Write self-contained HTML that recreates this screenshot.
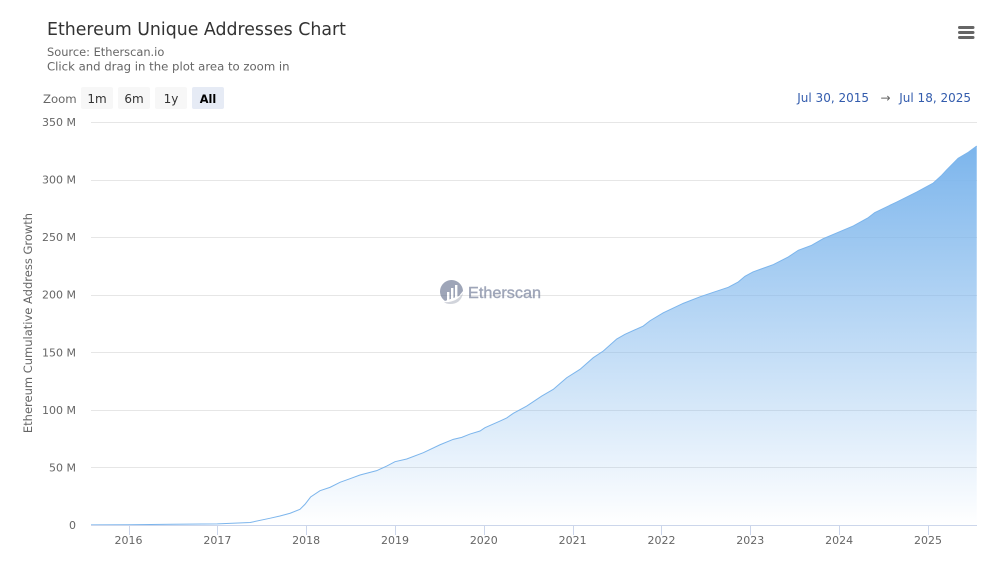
<!DOCTYPE html>
<html lang="en">
<head>
<meta charset="utf-8">
<title>Ethereum Unique Addresses Chart</title>
<style>
html,body{margin:0;padding:0;background:#fff;}
body{width:998px;height:568px;overflow:hidden;}
svg{display:block;}
text{font-family:"DejaVu Sans","Liberation Sans",sans-serif;}
text.wm{font-family:"Liberation Sans",sans-serif;}
</style>
</head>
<body>
<svg id="chart" width="998" height="568" viewBox="0 0 998 568" xmlns="http://www.w3.org/2000/svg">
  <defs>
    <linearGradient id="areaFill" x1="0" y1="0" x2="0" y2="1">
      <stop offset="0" stop-color="#7cb5ec"/>
      <stop offset="1" stop-color="#7cb5ec" stop-opacity="0"/>
    </linearGradient>
  </defs>
  <text x="47" y="35" font-size="17.35" fill="#333333">Ethereum Unique Addresses Chart</text>
  <text x="47" y="56" font-size="11.4" fill="#666666">Source: Etherscan.io</text>
  <text x="47" y="70.5" font-size="11.7" fill="#666666">Click and drag in the plot area to zoom in</text>

  <g stroke="#666666" stroke-width="3" stroke-linecap="round">
    <line x1="959.5" x2="973" y1="27.5" y2="27.5"/>
    <line x1="959.5" x2="973" y1="32.5" y2="32.5"/>
    <line x1="959.5" x2="973" y1="37.5" y2="37.5"/>
  </g>

  <text x="43" y="103" font-size="11.7" fill="#666666">Zoom</text>
  <g>
    <rect x="81" y="87" width="32" height="22" rx="2" fill="#f7f7f7"/>
    <text x="97" y="103" font-size="12" fill="#333333" text-anchor="middle">1m</text>
  </g>
  <g>
    <rect x="118" y="87" width="32" height="22" rx="2" fill="#f7f7f7"/>
    <text x="134" y="103" font-size="12" fill="#333333" text-anchor="middle">6m</text>
  </g>
  <g>
    <rect x="155" y="87" width="32" height="22" rx="2" fill="#f7f7f7"/>
    <text x="171" y="103" font-size="12" fill="#333333" text-anchor="middle">1y</text>
  </g>
  <g>
    <rect x="192" y="87" width="32" height="22" rx="2" fill="#e6ebf5"/>
    <text x="208" y="103" font-size="11.3" font-weight="bold" fill="#000000" text-anchor="middle">All</text>
  </g>

  <text x="869" y="102" font-size="12" fill="#335cad" text-anchor="end">Jul 30, 2015</text>
  <text x="885.5" y="102" font-size="12" fill="#666666" text-anchor="middle">→</text>
  <text x="971" y="102" font-size="12" fill="#335cad" text-anchor="end">Jul 18, 2025</text>

  <g id="grid"></g>
  <g id="yLabels"></g>
  <text transform="translate(32,323) rotate(-90)" font-size="11.5" fill="#666666" text-anchor="middle">Ethereum Cumulative Address Growth</text>

  <g opacity="0.6">
    <path d="M445 301 A11.5 11.5 0 1 1 463 291 L459 296 L445 301 Z" fill="#5f6b8a"/>
    <path d="M444 302 Q456 303 463 293 Q461 304 450 304 Q446 304 444 302 Z" fill="#b4b8c4"/>
    <rect x="447" y="292" width="2.4" height="9" fill="#fff"/>
    <rect x="451" y="288" width="2.4" height="12" fill="#fff"/>
    <rect x="455" y="285" width="2.4" height="13" fill="#fff"/>
    <text class="wm" x="468" y="298" font-size="16" fill="#5f6b8a" stroke="#5f6b8a" stroke-width="0.4" textLength="73" lengthAdjust="spacingAndGlyphs">Etherscan</text>
  </g>

  <path id="area" fill="url(#areaFill)"></path>
  <path id="line" fill="none" stroke="#7cb5ec" stroke-width="1"></path>

  <line x1="91" x2="977" y1="525.5" y2="525.5" stroke="#ccd6eb"/>
  <g id="xTicks"></g>
</svg>
<script>
const years = [2015.578,2016.0,2016.5,2017.0,2017.37,2017.59,2017.705,2017.82,2017.93,2017.987,2018.05,2018.156,2018.268,2018.381,2018.494,2018.606,2018.794,2018.907,2019.0,2019.132,2019.319,2019.507,2019.656,2019.751,2019.844,2019.957,2020.013,2020.182,2020.258,2020.332,2020.483,2020.652,2020.782,2020.933,2021.083,2021.232,2021.345,2021.496,2021.589,2021.795,2021.871,2022.02,2022.245,2022.433,2022.583,2022.752,2022.865,2022.94,2023.03,2023.26,2023.428,2023.54,2023.69,2023.82,2024.16,2024.328,2024.40,2024.648,2024.873,2025.06,2025.154,2025.21,2025.34,2025.454,2025.549];
const addressesM = [0.1,0.2,0.6,1.0,2.2,5.8,7.8,10.2,13.6,18,24.3,29.8,32.7,37.1,40.2,43.4,47.2,51.2,55,57.3,62.8,69.7,74.4,76.1,79,81.6,84.5,90.3,93,97,103.3,112,117.8,127.9,135.2,145.3,151.1,161.5,165.6,172.8,177.4,184.3,192.5,198.2,202.1,206.4,211.1,216,219.8,226.2,232.8,238.6,242.9,248.7,259.7,266.9,271.3,280.5,289.2,297,303.7,308.3,318.5,323.7,329.1];
const yTickValues = [0,50,100,150,200,250,300,350];
const xTickYears = [2016,2017,2018,2019,2020,2021,2022,2023,2024,2025];

const NS = 'http://www.w3.org/2000/svg';
function xScale(year){ return 128.5 + (year - 2016) * 88.83; }
function yScale(value){ return 525 - value * 403 / 350; }

const grid = document.getElementById('grid');
const yLabels = document.getElementById('yLabels');
yTickValues.forEach(function(v){
  const y = Math.round(yScale(v)) + 0.5;
  if (v > 0) {
    const ln = document.createElementNS(NS, 'line');
    
    
    ln.setAttribute('x1', 91); ln.setAttribute('x2', 977);
    ln.setAttribute('y1', y); ln.setAttribute('y2', y);
    ln.setAttribute('stroke', '#e6e6e6');
    grid.appendChild(ln);
  }
  const t = document.createElementNS(NS, 'text');
  
  
  t.setAttribute('x', 76); t.setAttribute('y', yScale(v) + 4);
  t.setAttribute('font-size', 11);
  t.setAttribute('fill', '#666666');
  t.setAttribute('text-anchor', 'end');
  t.textContent = v === 0 ? '0' : v + ' M';
  yLabels.appendChild(t);
});

const xTicks = document.getElementById('xTicks');
xTickYears.forEach(function(yr){
  const x = Math.round(xScale(yr)) + 0.5;
  const tk = document.createElementNS(NS, 'line');
  
  
  tk.setAttribute('x1', x); tk.setAttribute('x2', x);
  tk.setAttribute('y1', 525); tk.setAttribute('y2', 535);
  tk.setAttribute('stroke', '#ccd6eb');
  xTicks.appendChild(tk);
  const t = document.createElementNS(NS, 'text');
  
  
  t.setAttribute('x', xScale(yr)); t.setAttribute('y', 544);
  t.setAttribute('font-size', 11);
  t.setAttribute('fill', '#666666');
  t.setAttribute('text-anchor', 'middle');
  t.textContent = String(yr);
  xTicks.appendChild(t);
});

const pts = years.map(function(yr, i){
  return xScale(yr).toFixed(2) + ' ' + yScale(addressesM[i]).toFixed(2);
});
const lineD = 'M' + pts.join(' L');
document.getElementById('line').setAttribute('d', lineD);
document.getElementById('area').setAttribute('d',
  lineD + ' L' + xScale(years[years.length - 1]).toFixed(2) + ' ' + yScale(0) +
  ' L' + xScale(years[0]).toFixed(2) + ' ' + yScale(0) + ' Z');
</script>
</body>
</html>
